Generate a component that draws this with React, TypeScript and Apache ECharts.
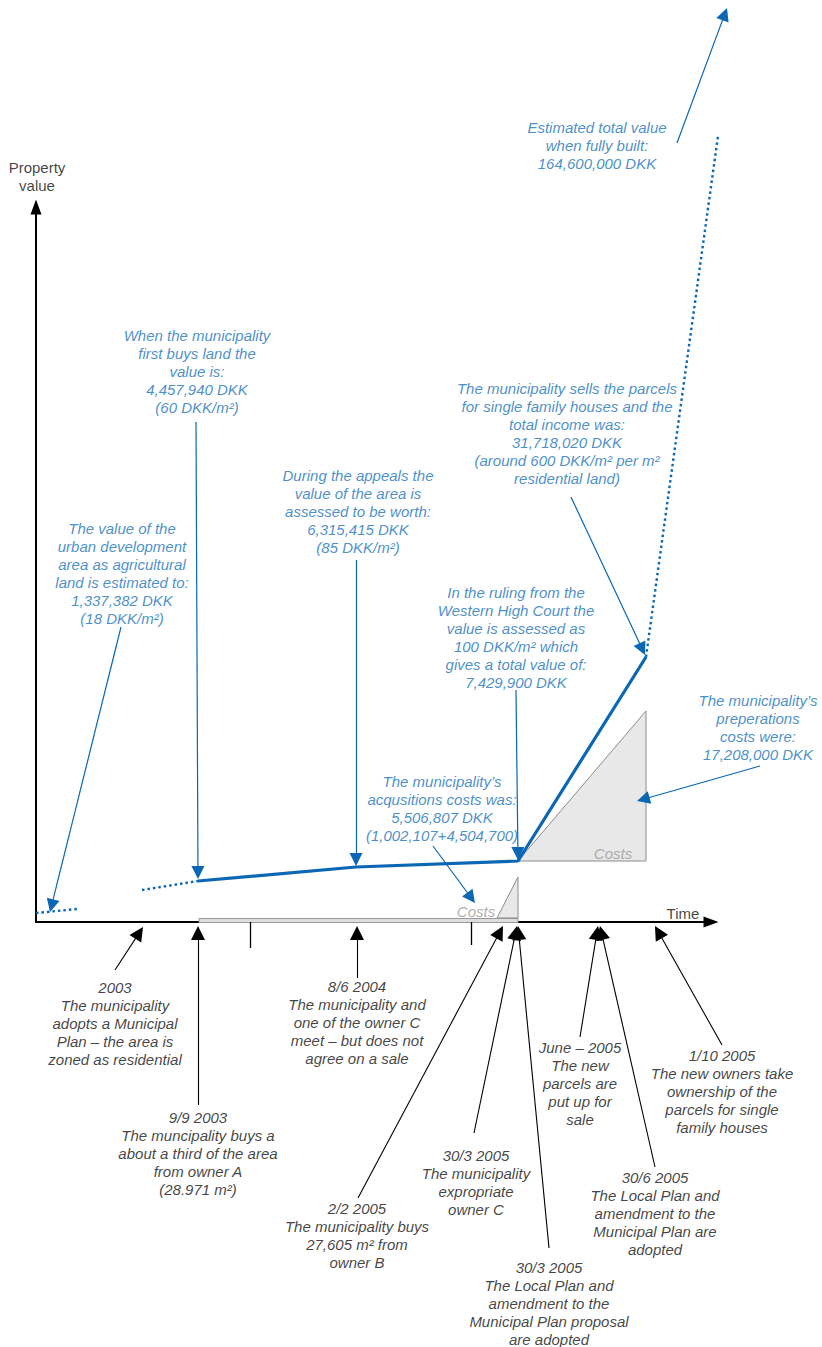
import React, { useEffect, useRef } from "react";
import * as echarts from "echarts";

// Schematic diagram units (not to scale): x = time, y = property value.
const X_MAX = 675;
const Y_MAX = 715;

// Property value line (solid) and its dotted extensions
const valueLine = [[162, 41], [320, 55], [482, 61], [610, 265]];
const agriculturalDotted = [[0, 9], [41, 13]];
const preBuyDotted = [[106, 32], [162, 41]];
const fullyBuiltDotted = [[610, 265], [682, 786]];

// Cost triangles: [xStart, yBase, xEnd, yTop]
const costTriangles = [
  [461, 4, 482, 45],
  [482, 61, 610, 211],
];
// Acquisition period on the time axis [xStart, xEnd]
const acquisitionPeriod = [[163, 482]];
// Small time ticks below the axis: [x, depth]
const timeTicks = [[214, -26], [435, -23]];

const blueNotes = [
  { at: [561, 777], text: "Estimated total value\nwhen fully built:\n164,600,000 DKK" },
  { at: [161, 551], text: "When the municipality\nfirst buys land the\nvalue is:\n4,457,940 DKK\n(60 DKK/m²)" },
  { at: [322, 411], text: "During the appeals the\nvalue of the area is\nassessed to be worth:\n6,315,415 DKK\n(85 DKK/m²)" },
  { at: [86, 349], text: "The value of the\nurban development\narea as agricultural\nland is estimated to:\n1,337,382 DKK\n(18 DKK/m²)" },
  { at: [531, 489], text: "The municipality sells the parcels\nfor single family houses and the\ntotal income was:\n31,718,020 DKK\n(around 600 DKK/m² per m²\nresidential land)" },
  { at: [480, 285], text: "In the ruling from the\nWestern High Court the\nvalue is assessed as\n100 DKK/m² which\ngives a total value of:\n7,429,900 DKK" },
  { at: [406, 114], text: "The municipality’s\nacqusitions costs was:\n5,506,807 DKK\n(1,002,107+4,504,700)" },
  { at: [722, 195], text: "The municipality’s\npreperations\ncosts were:\n17,208,000 DKK" },
];

const blueArrows = [
  [[641, 779], [691, 914]],
  [[160, 500], [162, 43]],
  [[320, 362], [320, 56]],
  [[85, 295], [14, 10]],
  [[535, 425], [609, 267]],
  [[480, 232], [482, 62]],
  [[397, 76], [439, 19]],
  [[724, 156], [601, 121]],
];

const blackNotes = [
  { at: [79, -101], text: "2003\nThe municipality\nadopts a Municipal\nPlan – the area is\nzoned as residential" },
  { at: [162, -231], text: "9/9 2003\nThe muncipality buys a\nabout a third of the area\nfrom owner A\n(28.971 m²)" },
  { at: [321, -100], text: "8/6 2004\nThe municipality and\none of the owner C\nmeet – but does not\nagree on a sale" },
  { at: [321, -313], text: "2/2 2005\nThe municipality buys\n27,605 m² from\nowner B" },
  { at: [440, -260], text: "30/3 2005\nThe municipality\nexpropriate\nowner C" },
  { at: [513, -381], text: "30/3 2005\nThe Local Plan and\namendment to the\nMunicipal Plan proposal\nare adopted" },
  { at: [544, -161], text: "June – 2005\nThe new\nparcels are\nput up for\nsale" },
  { at: [619, -291], text: "30/6 2005\nThe Local Plan and\namendment to the\nMunicipal Plan are\nadopted" },
  { at: [686, -169], text: "1/10 2005\nThe new owners take\nownership of the\nparcels for single\nfamily houses" },
];

const blackArrows = [
  [[79, -48], [107, -5]],
  [[162, -183], [162, -4]],
  [[321, -56], [321, -4]],
  [[322, -276], [467, -4]],
  [[438, -211], [481, -4]],
  [[513, -326], [482, -4]],
  [[544, -115], [562, -4]],
  [[619, -245], [564, -4]],
  [[686, -123], [619, -4]],
];

const costLabels = [
  { at: [440, 11], text: "Costs" },
  { at: [577, 69], text: "Costs" },
];
const axisLabels = [
  { at: [1, 746], text: "Property\nvalue" },
  { at: [647, 9], text: "Time" },
];

const FONT = '"Liberation Sans", Arial, Helvetica, sans-serif';
const BLUE_TEXT = "#1873bb";
const BLUE_LINE = "#0a67b3";
const BLACK = "#111111";

function arrowCoords(from: number[], tip: number[], headLen: number) {
  const dx = tip[0] - from[0];
  const dy = tip[1] - from[1];
  const d = Math.hypot(dx, dy);
  return [from, [tip[0] - (dx / d) * headLen / 2, tip[1] - (dy / d) * headLen / 2]];
}

function noteSeries(notes: { at: number[]; text: string }[], color: string, italic: boolean) {
  return {
    type: "scatter",
    clip: false,
    silent: true,
    symbolSize: 0,
    z: 10,
    data: notes.map((n) => ({ value: n.at, label: { formatter: n.text } })),
    label: {
      show: true,
      position: "inside",
      color,
      fontStyle: italic ? "italic" : "normal",
      fontSize: 15,
      lineHeight: 18,
      fontFamily: FONT,
      align: "center",
      verticalAlign: "middle",
    },
  };
}

export default function App() {
  const ref = useRef<HTMLDivElement>(null);
  useEffect(() => {
    if (!ref.current) return;
    const chart = echarts.init(ref.current, null, { renderer: "svg" });
    chart.setOption({
      animation: false,
      backgroundColor: "#ffffff",
      grid: { left: 36, top: 207, width: X_MAX, height: Y_MAX },
      xAxis: {
        type: "value",
        min: 0,
        max: X_MAX,
        axisLine: { show: true, symbol: ["none", "triangle"], symbolSize: [11, 15], lineStyle: { color: "#000", width: 2 } },
        axisTick: { show: false },
        axisLabel: { show: false },
        splitLine: { show: false },
      },
      yAxis: {
        type: "value",
        min: 0,
        max: Y_MAX,
        axisLine: { show: true, symbol: ["none", "triangle"], symbolSize: [11, 15], lineStyle: { color: "#000", width: 2 } },
        axisTick: { show: false },
        axisLabel: { show: false },
        splitLine: { show: false },
      },
      series: [
        {
          type: "custom",
          clip: false,
          silent: true,
          z: 3,
          data: acquisitionPeriod,
          encode: { x: [0, 1] },
          renderItem: (_p: any, api: any) => {
            const s = api.coord([api.value(0), 0]);
            const e = api.coord([api.value(1), 0]);
            return {
              type: "rect",
              shape: { x: s[0], y: s[1] - 3.5, width: e[0] - s[0], height: 4 },
              style: { fill: "#dedede", stroke: "#9a9a9a", lineWidth: 1 },
            };
          },
        },
        {
          type: "custom",
          clip: false,
          silent: true,
          z: 3,
          data: costTriangles,
          encode: { x: [0, 2], y: [1, 3] },
          renderItem: (_p: any, api: any) => {
            const a = api.coord([api.value(0), api.value(1)]);
            const b = api.coord([api.value(2), api.value(3)]);
            const c = api.coord([api.value(2), api.value(1)]);
            return {
              type: "polygon",
              shape: { points: [a, b, c] },
              style: { fill: "#e8e8e8", stroke: "#8c8c8c", lineWidth: 1 },
            };
          },
        },
        {
          type: "lines",
          coordinateSystem: "cartesian2d",
          clip: false,
          silent: true,
          z: 4,
          symbol: ["none", "none"],
          lineStyle: { color: "#000", width: 1.3, opacity: 1 },
          data: timeTicks.map((t) => ({ coords: [[t[0], 0], [t[0], t[1]]] })),
        },
        {
          type: "line",
          clip: false,
          silent: true,
          z: 5,
          showSymbol: false,
          symbol: "none",
          data: valueLine,
          lineStyle: { color: BLUE_LINE, width: 3.2 },
        },
        {
          type: "lines",
          coordinateSystem: "cartesian2d",
          clip: false,
          silent: true,
          z: 5,
          symbol: ["none", "none"],
          lineStyle: { color: BLUE_LINE, width: 2.4, type: [2.5, 3], opacity: 1, curveness: 0 },
          data: [agriculturalDotted, preBuyDotted, fullyBuiltDotted].map((d) => ({ coords: d })),
        },
        {
          type: "lines",
          coordinateSystem: "cartesian2d",
          clip: false,
          silent: true,
          z: 6,
          symbol: ["none", "triangle"],
          symbolSize: [8, 13],
          lineStyle: { color: BLUE_LINE, width: 1.2, opacity: 1, curveness: 0 },
          data: blueArrows.map((a) => ({ coords: arrowCoords(a[0], a[1], 13) })),
        },
        {
          type: "lines",
          coordinateSystem: "cartesian2d",
          clip: false,
          silent: true,
          z: 6,
          symbol: ["none", "triangle"],
          symbolSize: [10, 14],
          lineStyle: { color: "#000", width: 1.1, opacity: 1, curveness: 0 },
          data: blackArrows.map((a) => ({ coords: arrowCoords(a[0], a[1], 14) })),
        },
        noteSeries(blueNotes, BLUE_TEXT, true),
        noteSeries(blackNotes, BLACK, true),
        noteSeries(costLabels, "#9a9a9a", true),
        noteSeries(axisLabels, BLACK, false),
      ],
    });
    return () => chart.dispose();
  }, []);
  return (
    <div
      ref={ref}
      style={{ position: "absolute", left: 0, top: 0, width: 822, height: 1347, background: "#fff" }}
    />
  );
}
